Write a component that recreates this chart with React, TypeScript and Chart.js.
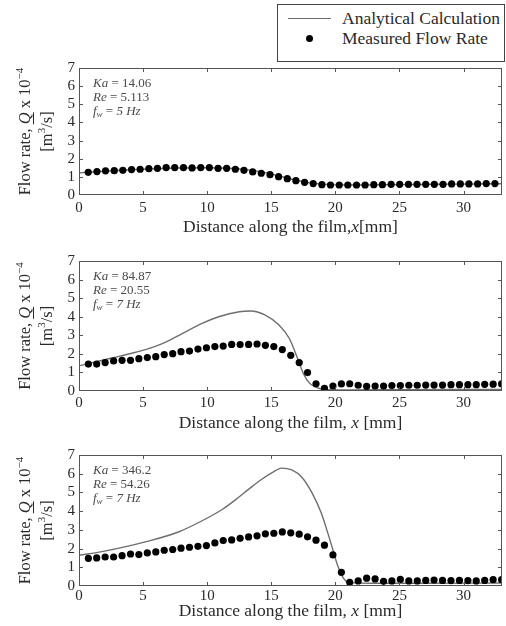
import React, { useEffect, useRef } from "react";
import { Chart, registerables } from "chart.js";
Chart.register(...registerables);

// ---------- data ----------
const X1 = [0.72, 1.40, 2.07, 2.75, 3.42, 4.10, 4.77, 5.45, 6.12, 6.80, 7.47, 8.15, 8.82, 9.50, 10.17, 10.85, 11.52, 12.20, 12.87, 13.55, 14.22, 14.90, 15.57, 16.25, 16.92, 17.60, 18.27, 18.95, 19.62, 20.30, 20.97, 21.65, 22.32, 23.00, 23.67, 24.35, 25.02, 25.70, 26.37, 27.05, 27.72, 28.40, 29.07, 29.75, 30.42, 31.10, 31.77, 32.45];
const Y1 = [1.25, 1.29, 1.33, 1.34, 1.36, 1.40, 1.42, 1.45, 1.47, 1.51, 1.51, 1.51, 1.49, 1.51, 1.51, 1.47, 1.47, 1.42, 1.36, 1.27, 1.20, 1.12, 1.01, 0.90, 0.79, 0.70, 0.63, 0.57, 0.55, 0.55, 0.55, 0.55, 0.55, 0.57, 0.57, 0.59, 0.59, 0.59, 0.59, 0.59, 0.59, 0.59, 0.61, 0.61, 0.61, 0.61, 0.63, 0.63];
const LX1 = [0, 2, 4, 6, 8, 10, 12, 13, 14, 15, 16, 17, 18, 19, 20, 22, 25, 28, 31, 33];
const LY1 = [1.22, 1.31, 1.39, 1.45, 1.49, 1.5, 1.46, 1.4, 1.3, 1.15, 0.98, 0.8, 0.67, 0.6, 0.56, 0.55, 0.57, 0.59, 0.61, 0.62];

const X23 = [0.73, 1.38, 2.04, 2.70, 3.36, 4.02, 4.67, 5.33, 5.99, 6.65, 7.31, 7.96, 8.62, 9.28, 9.94, 10.60, 11.25, 11.91, 12.57, 13.23, 13.89, 14.54, 15.20, 15.86, 16.52, 17.18, 17.83, 18.49, 19.15, 19.81, 20.47, 21.12, 21.78, 22.44, 23.10, 23.76, 24.41, 25.07, 25.73, 26.39, 27.05, 27.70, 28.36, 29.02, 29.68, 30.34, 30.99, 31.65, 32.31, 32.97];
const Y2 = [1.45, 1.45, 1.53, 1.62, 1.65, 1.65, 1.74, 1.80, 1.85, 1.96, 2.01, 2.12, 2.15, 2.26, 2.33, 2.39, 2.42, 2.51, 2.50, 2.51, 2.53, 2.46, 2.39, 2.23, 1.92, 1.53, 0.99, 0.39, 0.14, 0.27, 0.38, 0.39, 0.31, 0.25, 0.27, 0.27, 0.29, 0.29, 0.31, 0.31, 0.32, 0.32, 0.32, 0.34, 0.34, 0.34, 0.34, 0.36, 0.37, 0.38];
const LX2 = [0, 1.9, 3.2, 5.25, 6.5, 7.8, 9.6, 10.9, 12.5, 13.4, 14.5, 15.6, 16.4, 17.0, 17.5, 18.0, 18.7, 19.5, 21, 25, 29, 33];
const LY2 = [1.35, 1.67, 1.88, 2.24, 2.55, 3.0, 3.64, 4.0, 4.27, 4.31, 4.1, 3.55, 2.84, 1.85, 0.95, 0.41, 0.15, 0.07, 0.06, 0.07, 0.08, 0.08];

const Y3 = [1.48, 1.50, 1.55, 1.55, 1.62, 1.71, 1.68, 1.77, 1.82, 1.91, 1.95, 2.02, 2.07, 2.12, 2.16, 2.30, 2.43, 2.46, 2.55, 2.62, 2.68, 2.79, 2.82, 2.89, 2.84, 2.77, 2.63, 2.45, 2.18, 1.66, 0.73, 0.20, 0.27, 0.42, 0.38, 0.25, 0.27, 0.35, 0.27, 0.27, 0.30, 0.32, 0.30, 0.29, 0.30, 0.29, 0.27, 0.30, 0.34, 0.34];
const LX3 = [0, 1.9, 5.25, 7.8, 10.2, 11.2, 12.2, 13.2, 14.2, 15.1, 15.8, 16.6, 17.4, 18.2, 18.9, 19.4, 19.8, 20.2, 20.6, 21.1, 23, 27, 33];
const LY3 = [1.64, 1.85, 2.37, 2.9, 3.7, 4.1, 4.6, 5.15, 5.68, 6.07, 6.3, 6.2, 5.8, 4.95, 3.9, 2.85, 1.95, 1.05, 0.45, 0.18, 0.15, 0.15, 0.16];

const KA = ["14.06", "84.87", "346.2"];
const RE = ["5.113", "20.55", "54.26"];
const FW = ["5", "7", "7"];
const X_TITLES = [
  ["Distance along the film,", "x", "[mm]"],
  ["Distance along the film, ", "x", " [mm]"],
  ["Distance along the film, ", "x", " [mm]"],
];
const LEGEND_LABELS = ["Analytical Calculation", "Measured Flow Rate"];

// ---------- styling ----------
const SERIF = '"Liberation Serif", "Times New Roman", serif';
const LINE_COLOR = "#6e6e6e";
const FRAME_COLOR = "#555";
const TEXT_COLOR = "#2a2a2a";

type Seg = { t: string; f: string; dy?: number; u?: boolean };

function drawRich(ctx: CanvasRenderingContext2D, segs: Seg[], x: number, y: number, align: "left" | "center") {
  let w = 0;
  for (const s of segs) {
    ctx.font = s.f;
    w += ctx.measureText(s.t).width;
  }
  let cx = align === "center" ? x - w / 2 : x;
  ctx.textAlign = "left";
  ctx.textBaseline = "middle";
  for (const s of segs) {
    ctx.font = s.f;
    const sw = ctx.measureText(s.t).width;
    ctx.fillText(s.t, cx, y + (s.dy || 0));
    if (s.u) {
      ctx.save();
      ctx.strokeStyle = ctx.fillStyle as string;
      ctx.lineWidth = 1;
      ctx.beginPath();
      ctx.moveTo(cx, y + 7.5);
      ctx.lineTo(cx + sw, y + 7.5);
      ctx.stroke();
      ctx.restore();
    }
    cx += sw;
  }
}

const decoPlugin = {
  id: "deco",
  afterDraw(chart: any, _args: any, opts: any) {
    const { ctx, chartArea } = chart;
    const { left, right, top, bottom } = chartArea;
    const xs = chart.scales.x;
    const ys = chart.scales.y;
    ctx.save();
    // frame
    ctx.strokeStyle = FRAME_COLOR;
    ctx.lineWidth = 1;
    ctx.strokeRect(left + 0.5, top + 0.5, right - left - 1, bottom - top - 1);
    // inward ticks
    ctx.beginPath();
    for (let v = 5; v < 33; v += 5) {
      const px = Math.round(xs.getPixelForValue(v)) + 0.5;
      ctx.moveTo(px, bottom);
      ctx.lineTo(px, bottom - 4);
      ctx.moveTo(px, top);
      ctx.lineTo(px, top + 4);
    }
    for (let v = 1; v < 7; v++) {
      const py = Math.round(ys.getPixelForValue(v)) + 0.5;
      ctx.moveTo(left, py);
      ctx.lineTo(left + 4, py);
      ctx.moveTo(right, py);
      ctx.lineTo(right - 4, py);
    }
    ctx.stroke();

    // annotations
    ctx.fillStyle = "#4a4a4a";
    const it = `italic 13px ${SERIF}`;
    const nm = `13px ${SERIF}`;
    const ax = left + 14;
    drawRich(ctx, [{ t: "Ka", f: it }, { t: " = " + opts.ka, f: nm }], ax, top + 16, "left");
    drawRich(ctx, [{ t: "Re", f: it }, { t: " = " + opts.re, f: nm }], ax, top + 30, "left");
    drawRich(
      ctx,
      [
        { t: "f", f: it },
        { t: "w", f: `italic 9px ${SERIF}`, dy: 3 },
        { t: " = ", f: nm },
        { t: opts.fw + " Hz", f: it },
      ],
      ax,
      top + 44,
      "left"
    );

    // x title
    ctx.fillStyle = TEXT_COLOR;
    const tf = `17.5px ${SERIF}`;
    const tfi = `italic 17.5px ${SERIF}`;
    const xt = opts.xTitle as string[];
    drawRich(
      ctx,
      [{ t: xt[0], f: tf }, { t: xt[1], f: tfi }, { t: xt[2], f: tf }],
      (left + right) / 2,
      bottom + opts.xTitleDy,
      "center"
    );

    // y title (rotated)
    const yf = `16.5px ${SERIF}`;
    const yfi = `italic 16.5px ${SERIF}`;
    const cy = (top + bottom) / 2;
    ctx.save();
    ctx.translate(26, cy);
    ctx.rotate(-Math.PI / 2);
    drawRich(
      ctx,
      [
        { t: "Flow rate, ", f: yf },
        { t: "Q", f: yfi, u: true },
        { t: " x 10", f: yf },
        { t: "\u22124", f: `11px ${SERIF}`, dy: -6 },
      ],
      0,
      0,
      "center"
    );
    ctx.restore();
    ctx.save();
    ctx.translate(48, cy);
    ctx.rotate(-Math.PI / 2);
    drawRich(
      ctx,
      [
        { t: "[m", f: yf },
        { t: "3", f: `11px ${SERIF}`, dy: -6 },
        { t: "/s]", f: yf },
      ],
      0,
      0,
      "center"
    );
    ctx.restore();
    ctx.restore();
  },
};

type PanelCfg = {
  top: number;
  height: number;
  padTop: number;
  xH: number;
  xTitleDy: number;
  tickPad: number;
  px: number[];
  py: number[];
  lx: number[];
  ly: number[];
  idx: number;
};

const PANELS: PanelCfg[] = [
  { top: 0, height: 240, padTop: 68, xH: 45, xTitleDy: 32, tickPad: 4, px: X1, py: Y1, lx: LX1, ly: LY1, idx: 0 },
  { top: 240, height: 195, padTop: 21, xH: 44, xTitleDy: 32, tickPad: 3, px: X23, py: Y2, lx: LX2, ly: LY2, idx: 1 },
  { top: 435, height: 191, padTop: 20, xH: 40, xTitleDy: 25, tickPad: 1, px: X23, py: Y3, lx: LX3, ly: LY3, idx: 2 },
];

function Panel({ cfg }: { cfg: PanelCfg }) {
  const ref = useRef<HTMLCanvasElement | null>(null);
  useEffect(() => {
    if (!ref.current) return;
    const tickFont = { family: SERIF, size: 15 };
    const chart = new Chart(ref.current, {
      type: "scatter",
      data: {
        datasets: [
          {
            label: LEGEND_LABELS[1],
            data: cfg.px.map((x, i) => ({ x, y: cfg.py[i] })),
            pointRadius: 3.6,
            pointBackgroundColor: "#000",
            pointBorderWidth: 0,
            showLine: false,
          },
          {
            label: LEGEND_LABELS[0],
            data: cfg.lx.map((x, i) => ({ x, y: cfg.ly[i] })),
            showLine: true,
            pointRadius: 0,
            borderColor: LINE_COLOR,
            borderWidth: 1.4,
            cubicInterpolationMode: "monotone",
          } as any,
        ],
      },
      options: {
        animation: false,
        responsive: false,
        maintainAspectRatio: false,
        events: [],
        layout: { padding: { top: cfg.padTop, left: 0, right: 1, bottom: 0 } },
        plugins: {
          legend: { display: false },
          tooltip: { enabled: false },
          deco: {
            ka: KA[cfg.idx],
            re: RE[cfg.idx],
            fw: FW[cfg.idx],
            xTitle: X_TITLES[cfg.idx],
            xTitleDy: cfg.xTitleDy,
          },
        } as any,
        scales: {
          x: {
            type: "linear",
            min: 0,
            max: 33,
            grid: { display: false, drawTicks: false },
            border: { display: false },
            ticks: { stepSize: 5, autoSkip: false, font: tickFont, color: TEXT_COLOR, padding: cfg.tickPad, maxRotation: 0 },
            afterBuildTicks: (s: any) => {
              s.ticks = s.ticks.filter((t: any) => t.value % 5 === 0);
            },
            afterFit: (s: any) => {
              s.height = cfg.xH;
              s.paddingLeft = 0;
              s.paddingRight = 0;
            },
          },
          y: {
            type: "linear",
            min: 0,
            max: 7,
            grid: { display: false, drawTicks: false },
            border: { display: false },
            ticks: { stepSize: 1, autoSkip: false, font: tickFont, color: TEXT_COLOR, padding: 4 },
            afterFit: (s: any) => {
              s.width = 79;
              s.paddingTop = 0;
              s.paddingBottom = 0;
            },
          },
        },
      },
      plugins: [decoPlugin],
    });
    return () => chart.destroy();
  }, [cfg]);
  return (
    <canvas
      ref={ref}
      width={506}
      height={cfg.height}
      style={{ position: "absolute", left: 0, top: cfg.top, width: 506, height: cfg.height, display: "block" }}
    />
  );
}

function Legend() {
  return (
    <div
      style={{
        position: "absolute",
        left: 277,
        top: 4,
        width: 228,
        height: 58,
        border: "1px solid #444",
        background: "#fff",
        fontFamily: SERIF,
        fontSize: 17.5,
        color: TEXT_COLOR,
        boxSizing: "border-box",
      }}
    >
      <div style={{ position: "absolute", left: 10, top: 13, width: 43, height: 0, borderTop: `1.5px solid ${LINE_COLOR}` }} />
      <div
        style={{
          position: "absolute",
          left: 28,
          top: 30,
          width: 7,
          height: 7,
          borderRadius: "50%",
          background: "#000",
        }}
      />
      <div style={{ position: "absolute", left: 64, top: 3, lineHeight: "20px", whiteSpace: "nowrap" }}>{LEGEND_LABELS[0]}</div>
      <div style={{ position: "absolute", left: 64, top: 23, lineHeight: "20px", whiteSpace: "nowrap" }}>{LEGEND_LABELS[1]}</div>
    </div>
  );
}

export default function App() {
  return (
    <div style={{ position: "absolute", left: 0, top: 0, width: 506, height: 626, background: "#fff", overflow: "hidden" }}>
      {PANELS.map((p) => (
        <Panel key={p.idx} cfg={p} />
      ))}
      <Legend />
    </div>
  );
}
